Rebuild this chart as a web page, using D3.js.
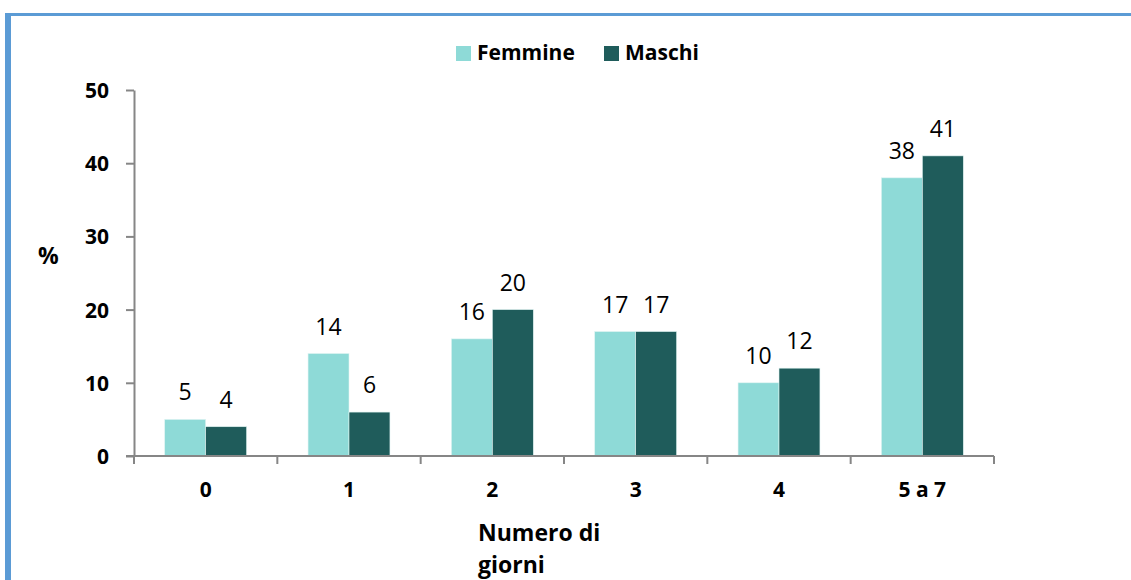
<!DOCTYPE html>
<html lang="it">
<head>
<meta charset="UTF-8">
<title>Numero di giorni</title>
<script src="https://d3js.org/d3.v7.min.js"></script>
<style>
  body { margin: 0; background: #fff; }
  svg { display: block; font-family: "Open Sans", sans-serif; }
  .axis path, .axis line { stroke: #868686; stroke-width: 2px; }
  .axis text { font-size: 21px; font-weight: bold; fill: #000; font-family: "Open Sans", sans-serif; }
  .val { font-size: 23px; fill: #000; text-anchor: middle; }
</style>
</head>
<body>
<div id="chart"></div>
<script>
// data
const categories = ["0", "1", "2", "3", "4", "5 a 7"];
const seriesNames = ["Femmine", "Maschi"];
const femmine = [5, 14, 16, 17, 10, 38];
const maschi = [4, 6, 20, 17, 12, 41];
const yTicks = [0, 10, 20, 30, 40, 50];
const xTitle = ["Numero di", "giorni"];
const colors = ["#8edad7", "#1f5c5b"];

const width = 1131, height = 580;
const svg = d3.select("#chart").append("svg")
    .attr("width", width)
    .attr("height", height);

// frame lines (blue border top + left)
svg.append("rect").attr("x", 5).attr("y", 13).attr("width", width - 5).attr("height", 3).attr("fill", "#5b9bd5");
svg.append("rect").attr("x", 5).attr("y", 13).attr("width", 6).attr("height", height - 13).attr("fill", "#5b9bd5");

const x = d3.scaleBand().domain(categories).range([134, 994]).padding(0);
const xs = d3.scaleBand().domain(seriesNames).range([0, x.bandwidth()])
    .paddingInner(0).paddingOuter(0.75);
const y = d3.scaleLinear().domain([0, 50]).range([456, 90]);

// y axis
const yAxis = svg.append("g").attr("class", "axis")
    .attr("transform", "translate(134,0)")
    .call(d3.axisLeft(y).tickValues(yTicks).tickSize(8).tickPadding(17).tickSizeOuter(0));
yAxis.selectAll("text").attr("dy", "0.36em");

// bars
const rows = categories.map((c, i) => ({ cat: c, vals: [femmine[i], maschi[i]] }));
const groups = svg.selectAll(".grp").data(rows).join("g")
    .attr("class", "grp")
    .attr("transform", d => `translate(${x(d.cat)},0)`);

groups.selectAll("rect").data(d => d.vals.map((v, j) => ({ name: seriesNames[j], v: v, j: j })))
    .join("rect")
    .attr("x", d => xs(d.name))
    .attr("y", d => y(d.v))
    .attr("width", xs.bandwidth())
    .attr("height", d => y(0) - y(d.v))
    .attr("fill", d => colors[d.j])
    .attr("stroke", "#dff3f2")
    .attr("stroke-width", 0.6);

groups.selectAll("text.val").data(d => d.vals.map((v, j) => ({ name: seriesNames[j], v: v })))
    .join("text")
    .attr("class", "val")
    .attr("x", d => xs(d.name) + xs.bandwidth() / 2)
    .attr("y", d => y(d.v) - 19)
    .text(d => d.v);

// x axis: ticks at band edges, labels at centres
const xAxis = svg.append("g").attr("class", "axis")
    .attr("transform", "translate(0,456)");
xAxis.append("line").attr("x1", 126).attr("x2", 994).attr("y1", 0).attr("y2", 0);
const edges = categories.map(c => x(c)).concat([x.range()[1]]);
xAxis.selectAll("line.tk").data(edges).join("line")
    .attr("class", "tk")
    .attr("x1", d => d).attr("x2", d => d)
    .attr("y1", 0).attr("y2", 8);
xAxis.selectAll("text").data(categories).join("text")
    .attr("x", d => x(d) + x.bandwidth() / 2)
    .attr("y", 41)
    .attr("text-anchor", "middle")
    .text(d => d);

// axis titles
svg.append("text").attr("x", 38).attr("y", 264)
    .style("font-size", "23px").style("font-weight", "bold").text("%");
svg.selectAll(".xtitle").data(xTitle).join("text")
    .attr("class", "xtitle")
    .attr("x", 478)
    .attr("y", (d, i) => 541 + i * 32)
    .style("font-size", "23px").style("font-weight", "bold")
    .text(d => d);

// legend
const legX = [456, 604];
const leg = svg.selectAll(".leg").data(seriesNames).join("g")
    .attr("class", "leg")
    .attr("transform", (d, i) => `translate(${legX[i]},46)`);
leg.append("rect").attr("width", 15).attr("height", 15).attr("fill", (d, i) => colors[i]);
leg.append("text").attr("x", 21).attr("y", 14)
    .style("font-size", "21px").style("font-weight", "bold").text(d => d);
</script>
</body>
</html>
